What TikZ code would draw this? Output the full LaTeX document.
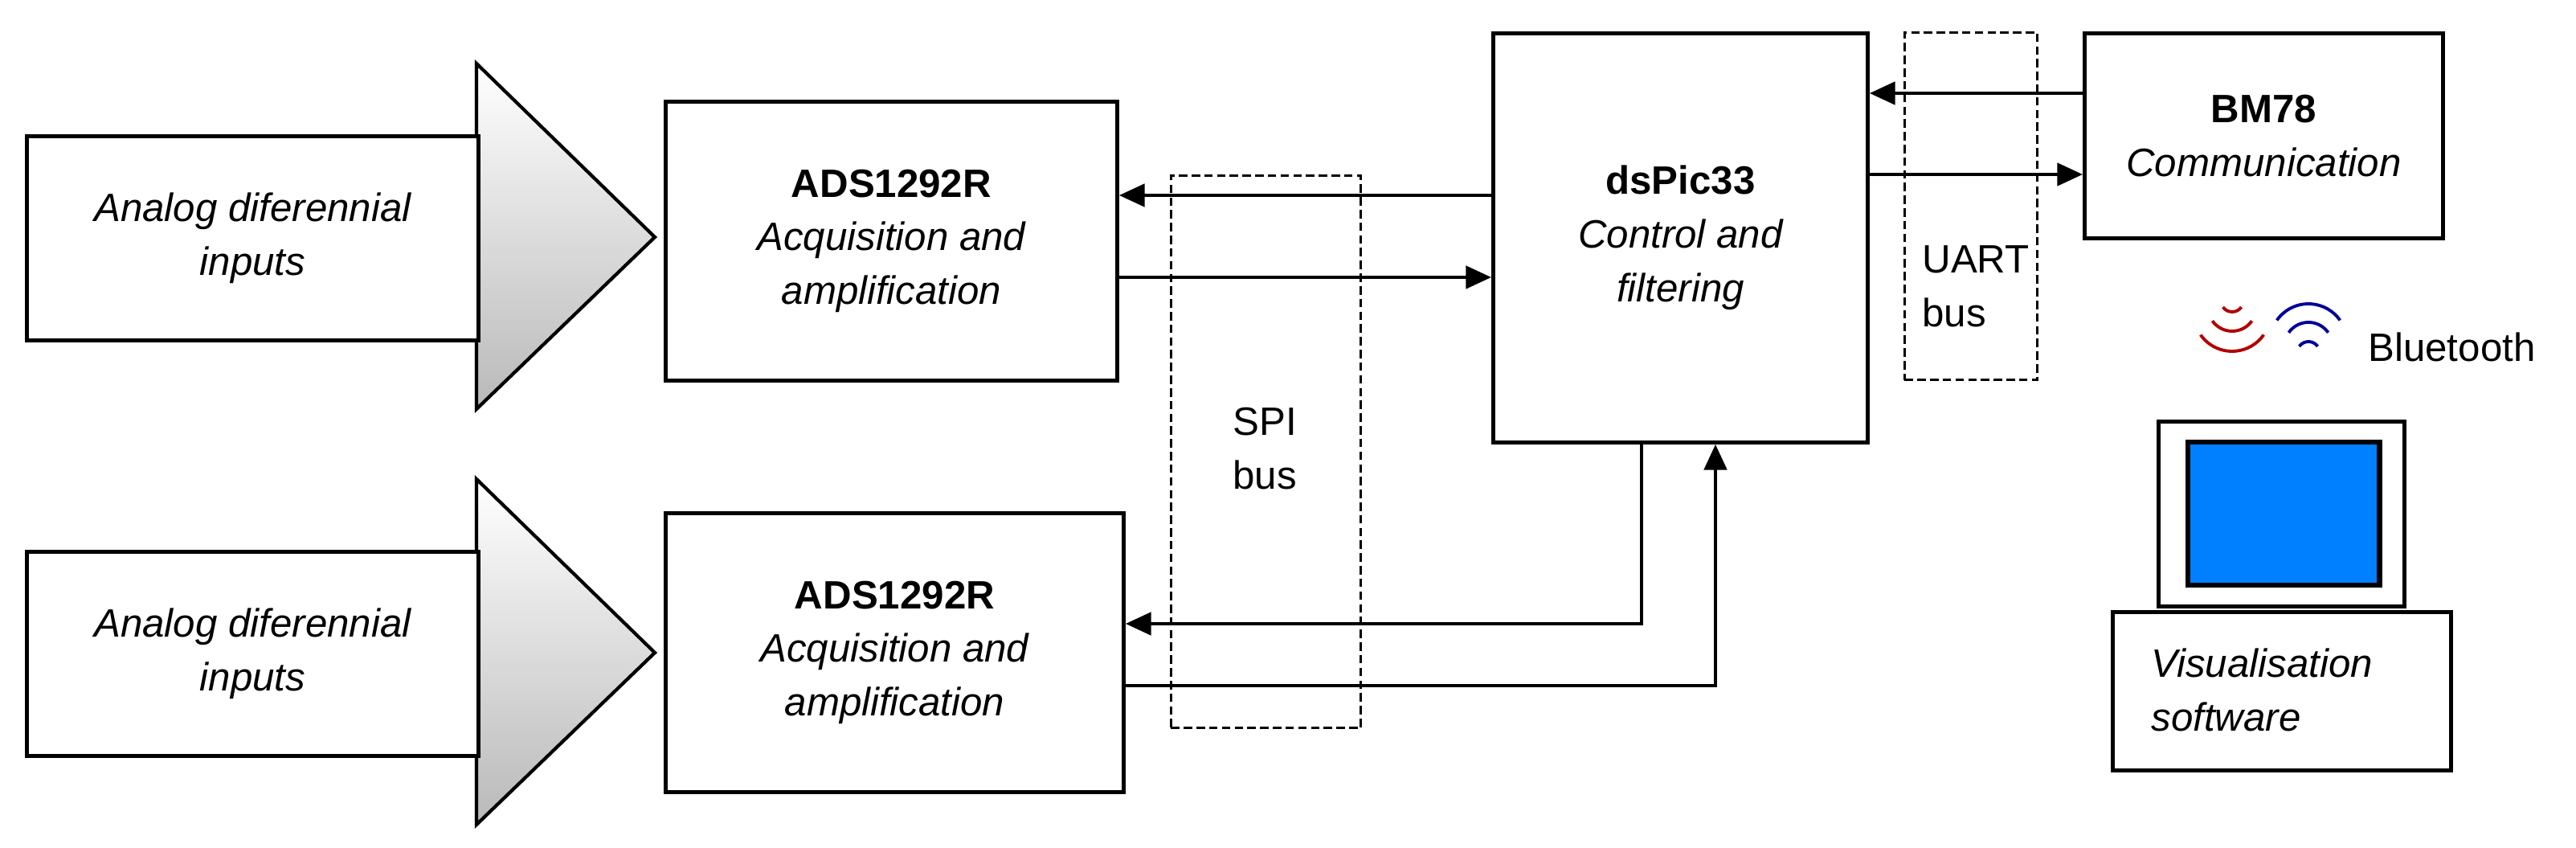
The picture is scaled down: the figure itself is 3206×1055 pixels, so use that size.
\documentclass[tikz,border=0pt]{standalone}
\usepackage{fontspec}
\setmainfont{Liberation Sans}
\usetikzlibrary{positioning, arrows.meta, calc}

\begin{document}
\begin{tikzpicture}[x=0.01cm, y=-0.01cm, font=\fontsize{14}{19}\selectfont]

		% Setup the styles for the blocks
		\tikzset{block/.style={draw, line width=1.3pt, fill=white, align=center, inner sep=0pt, anchor=north west},
			bus/.style={draw, line width=0.8pt, dash pattern=on 3pt off 1.5pt, anchor=north west},
			link/.style={line width=1.2pt, -{Triangle[length=9pt, width=8pt]}},
			wave/.style={line width=1.1pt}}

		\useasboundingbox (0,0) rectangle (3206,1055);

		% Inputs with the amplifier triangles
		\foreach \dy/\name in {0/inA, 517/inB} {
			\shade[top color=white, bottom color=gray!55, draw=black, line width=1.2pt]
				(593,79+\dy) -- (815,295+\dy) -- (593,509+\dy) -- cycle;
			\node[block, minimum width=5.62cm, minimum height=2.54cm] (\name) at (31,167+\dy)
				{\itshape Analog diferennial\\ \itshape inputs};
		}

		% Draw the blocks
		\node[block, minimum width=5.62cm, minimum height=3.47cm] (adsA) at (826,124)
			{\bfseries ADS1292R\\ \itshape Acquisition and\\ \itshape amplification};
		\node[block, minimum width=5.70cm, minimum height=3.47cm] (adsB) at (826,636)
			{\bfseries ADS1292R\\ \itshape Acquisition and\\ \itshape amplification};
		\node[block, minimum width=4.66cm, minimum height=5.09cm] (dspic) at (1856,39)
			{\bfseries dsPic33\\ \itshape Control and\\ \itshape filtering};
		\node[block, minimum width=4.46cm, minimum height=2.55cm] (bm) at (2592,39)
			{\bfseries BM78\\ \itshape Communication};

		% Buses
		\node[bus, minimum width=2.36cm, minimum height=6.87cm] (spi) at (1456,217) {};
		\node[align=left, anchor=west] (spitext) at (1522,558) {SPI\\bus};
		\node[bus, minimum width=1.65cm, minimum height=4.32cm] (uart) at (2369,39) {};
		\node[align=left, anchor=west] (uarttext) at (2380,356) {UART\\bus};

		% Connect the blocks with arrows
		\draw[link] (dspic.west |- 0,243) -- (adsA.east |- 0,243);
		\draw[link] (adsA.east |- 0,345) -- (dspic.west |- 0,345);
		\draw[link] (dspic.south -| 2043,0) |- (adsB.east |- 0,776);
		\draw[link] (adsB.east |- 0,853) -| (dspic.south -| 2135,0);
		\draw[link] (bm.west |- 0,116) -- (dspic.east |- 0,116);
		\draw[link] (dspic.east |- 0,217) -- (bm.west |- 0,217);

		% Bluetooth waves
		\foreach \r/\yb in {14/388, 30/412, 48/437}
			\draw[wave, red!70!black, shift={(2778,\yb-\r)}, y=0.01cm]
				(-145:\r) arc[start angle=-145, end angle=-35, radius=\r];
		\foreach \r/\yt in {14/425, 30/401, 48/378}
			\draw[wave, blue!60!black, shift={(2873,\yt+\r)}, y=0.01cm]
				(145:\r) arc[start angle=145, end angle=35, radius=\r];
		\node[anchor=west] (bt) at (2935,432) {Bluetooth};

		% Computer
		\node[block, line width=1.4pt, minimum width=3.06cm, minimum height=2.30cm] (monitor) at (2684,522) {};
		\node[draw, line width=1.8pt, fill={rgb,255:red,0;green,128;blue,255}, minimum width=2.38cm, minimum height=1.78cm, anchor=north west] (screen) at (2720,547) {};
		\node[block, minimum width=4.21cm, minimum height=1.97cm] (pc) at (2627,759) {};
		\node[align=left, anchor=west] (pctext) at (2665,858) {\itshape Visualisation\\ \itshape software};
\end{tikzpicture}
\end{document}
